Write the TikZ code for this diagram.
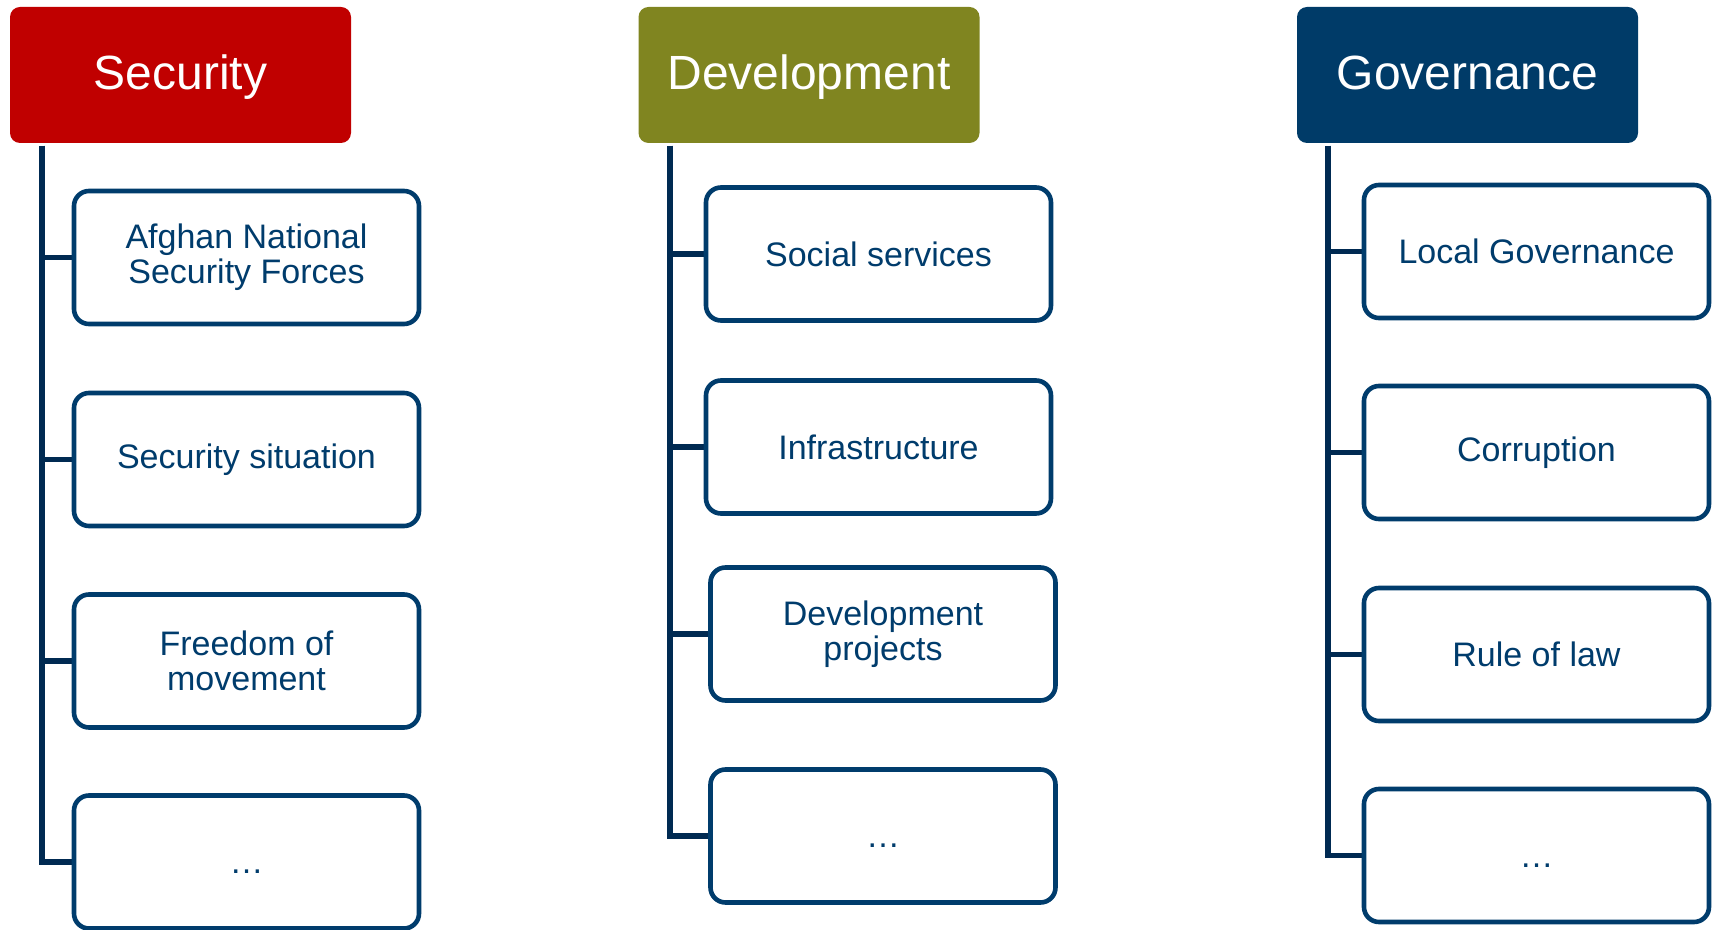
\documentclass[tikz,border=0pt]{standalone}
\usepackage{fontspec}
\setmainfont{Liberation Sans}
\usepackage{tikz}
\definecolor{secred}{RGB}{192,0,0}
\definecolor{devolive}{RGB}{128,133,32}
\definecolor{govnavy}{RGB}{0,59,104}
\definecolor{boxblue}{RGB}{0,60,108}
\definecolor{linkblue}{RGB}{0,42,82}
\newcommand{\moreitems}{\vphantom{S}\dots}

\begin{document}
\begin{tikzpicture}[x=0.5pt,y=-0.5pt,
        head/.style={rounded corners=5pt,minimum width=170.5pt,minimum height=68pt,
          inner sep=0pt,text height=17.3pt,text depth=2.4pt,text=white,
          font=\fontsize{24pt}{28pt}\selectfont},
        item/.style={draw=boxblue,line width=2.3pt,rounded corners=7.5pt,fill=white,
          minimum width=172.5pt,minimum height=66.5pt,inner sep=0pt,align=center,
          text=boxblue,font=\fontsize{17pt}{17.5pt}\selectfont},
        branch/.style={draw=linkblue,line width=2.8pt}]
        \useasboundingbox (0,0) rectangle (1721,930);
        \node[head,fill=secred] (sec) at (180.5,75) {Security};
        \node[head,fill=devolive] (dev) at (809,75) {Development};
        \node[head,fill=govnavy] (gov) at (1467.5,75) {Governance};
        \coordinate (secroot) at (42,146);
        \coordinate (devroot) at (670,146);
        \coordinate (govroot) at (1328,146);
        \foreach \n/\y/\t in {1/257.5/{Afghan National\\Security Forces},
          2/459.5/{Security situation}, 3/661/{Freedom of\\movement},
          4/862/\moreitems} {
          \draw[branch] (secroot) |- (246.5,\y);
          \node[item] (sec\n) at (246.5,\y) {\t};
        }
        \foreach \n/\x/\y/\t in {1/878.5/254/{Social services},
          2/878.5/447/{Infrastructure}, 3/883/634/{Development\\projects},
          4/883/836/\moreitems} {
          \draw[branch] (devroot) |- (\x,\y);
          \node[item] (dev\n) at (\x,\y) {\t};
        }
        \foreach \n/\y/\t in {1/251.5/{Local Governance}, 2/452.5/{Corruption},
          3/654.5/{Rule of law}, 4/855.5/\moreitems} {
          \draw[branch] (govroot) |- (1536.5,\y);
          \node[item] (gov\n) at (1536.5,\y) {\t};
        }
        \end{tikzpicture}
\end{document}
